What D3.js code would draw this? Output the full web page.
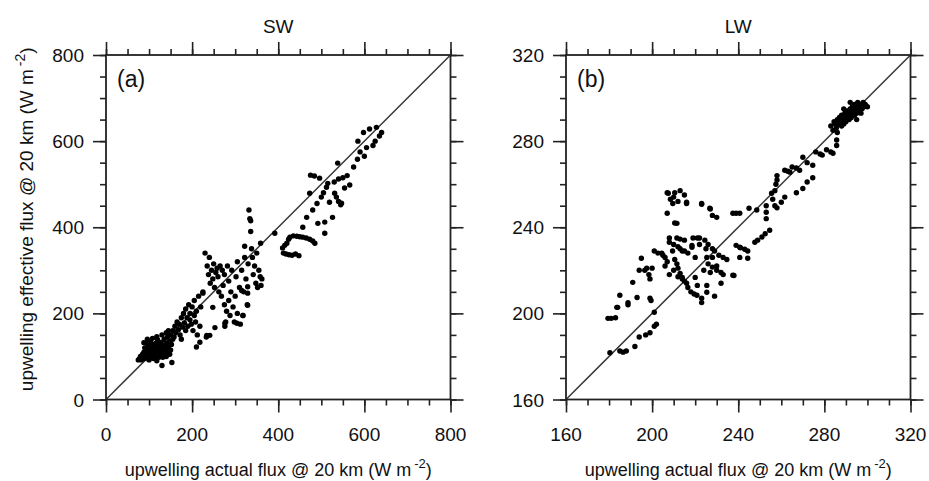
<!DOCTYPE html>
<html>
<head>
<meta charset="utf-8">
<script src="https://cdn.jsdelivr.net/npm/d3@7"></script>
<style>
  body { margin: 0; background: #fff; }
  svg text { font-family: "Liberation Sans", Arial, sans-serif; fill: #111; }
</style>
</head>
<body>
<div id="chart"></div>
<script>
// SW panel: [actual, effective] upwelling flux @ 20 km (W m-2)
const swPoints = [
  [75,92],[78,95],[80,100],[82,92],[85,97],[85,105],[88,110],[88,100],[90,95],[90,120],[92,104],[93,112],[95,98],[95,130],
  [97,108],[98,118],[100,92],[100,125],[100,102],[102,112],[103,135],[105,98],[105,118],[107,108],[108,128],[110,95],[110,115],
  [112,105],[112,122],[115,100],[115,130],[117,112],[118,90],[118,120],[120,104],[120,138],[122,115],[123,98],[125,110],[125,125],
  [127,132],[128,105],[130,118],[130,79],[132,98],[133,112],[135,125],[135,140],[137,108],[138,118],[140,130],[140,100],[142,112],
  [143,145],[145,122],[147,135],[148,105],[150,115],[152,128],[153,86],[155,140],[96,140],[88,132],[108,142],[118,146],[130,150],
  [140,155],[145,160],
  [150,150],[155,160],[158,145],[160,170],[162,155],[165,180],[168,162],[170,175],[172,150],[175,190],[175,140],[178,168],[180,200],
  [182,178],[185,160],[185,210],[188,190],[190,170],[192,220],[195,185],[195,200],[198,175],[200,215],[202,160],[205,195],[205,230],
  [208,180],[210,205],[212,150],[215,240],[218,170],[220,215],[210,122],[218,133],[233,145],[241,149],[234,149],[225,247],[248,214],
  [253,167],[276,177],[276,170],[304,177],[318,195],[329,219],[315,253],
  [225,250],[230,340],[235,310],[238,290],[240,330],[242,270],[245,300],[248,280],[250,315],[252,260],[255,295],[258,305],[260,285],
  [262,250],[265,310],[268,240],[270,300],[272,265],[275,220],[275,290],[278,180],[280,205],[282,310],[285,230],[285,275],[288,195],
  [290,250],[292,300],[295,215],[298,180],[300,240],[302,285],[305,200],[305,320],[310,260],[312,175],[315,300],[318,195],[320,250],
  [322,330],[325,280],[328,220],[330,315],[332,440],[334,420],[336,415],[336,390],[338,350],[340,330],[342,290],[345,310],[348,270],
  [350,340],[352,260],[355,300],[358,285],[360,265],[362,280],[322,356],[329,247],[329,262],[359,363],[392,386],
  [412,340],[418,338],[425,336],[432,335],[440,338],[448,334],[420,363],[424,372],[427,377],[435,380],[443,379],[450,378],[457,377],
  [465,375],[473,372],[480,368],[485,363],[410,352],[415,358],
  [457,400],[466,423],[473,479],[475,521],[484,519],[492,409],[496,514],[508,386],[508,412],[512,493],[515,502],[519,458],[526,423],
  [531,479],[535,470],[540,460],[547,456],[545,452],[554,491],[566,498],[538,549],[575,540],[584,558],[590,575],[600,565],[605,585],
  [598,620],[612,628],[625,600],[628,632],[635,612],[640,620],[620,590],[585,600],[560,520],[480,440],[490,455],[500,470],[505,480],
  [540,512],[550,515],[530,505]
];

// LW panel: [actual, effective] upwelling flux @ 20 km (W m-2)
const lwPoints = [
  [180.4,181.7],[185,182.5],[186.5,182],[188,182.5],[192,184.6],[194,189],[197,190],[199,191],[201,194],[202,195],[201,200.5],
  [179.5,197.7],[181,197.7],[183,198],[183.6,202.8],[184,202.8],[185,208.4],[188.8,205],[188.8,204],[193,207.4],[199,207],
  [199.5,206],[191,214.4],[194,220],[196.6,220],[195,225.6],[197.5,221],[198.5,218],[199,216],[200,221],[201,229],[202.7,228],
  [205,227],[207,224],[206,226],[208,233],[209.5,229],[210.5,225],[211.5,241.8],[207,246.5],[207.5,255.8],[208.5,253],[209.6,251],
  [210.5,256],[213,257],[215,255],[216,251.6],[223,251],[227,248.5],[228,245.5],[230,244.6],[237.5,246.5],[239,246.5],[240.7,246.5],
  [211.5,235],[213,234.5],[215,234],[213,230],[215,229],[216.6,228],[211.5,223],[212,221],[213,218.6],[214,216],[215,215],[216,214],
  [216.6,212],[218,210],[219.5,209],[220.8,208.4],[220,216.7],[221,213],[223,207],[223,205],[225.4,209.8],[225.4,213],[221,235],
  [222,235],[218.5,231.6],[218.5,230.7],[224.5,234],[226,232],[228,230],[225.4,226],[226,223],[228,221.5],[230,220],[229,229],
  [231,227],[233,226],[234.7,225],[232,219],[232,214],[229,208],[238,217.6],[240.7,226],[240.7,230.7],
  [204.5,228],[206,222],[208,218],[210,220],[212,217],[214,216.7],[208,235],[210,232],[212,231],[214,229],[219,235],[222,232],
  [225,230],[228,226],[230,222],[233,218],[220,226],[224,220],[227,219],[237.5,217.7],[239,231.6],[241,230.5],[243,229.8],
  [244.4,229],[244.4,225.6],[247.7,233],[249,234],[251,235.5],[252.5,237],[254.6,238.6],[245,248.8],[248.6,248],[253,250],
  [253,247],[253,244],[223,250.7],[226.8,248.8],[207,256],[210,254],[212,252],[216,251],[210.5,242],
  [255.5,255.8],[256,253],[257,250],[258,249],[257,257],[257.5,260],[258,262],[258,264],[260,251.6],[261.6,254],[261.6,266.5],
  [263,266],[264,265.6],[265,268],[267,267.5],[268.5,266.5],[267,256],[270,258],[272,261],[274.6,263],[270,272.5],[272,270],
  [274.6,268.8],[276,275],[278,274],[279,273.5],[281,276],[283,275],[284,274.4],[285.7,278],[285.7,280.5],
  [283,287],[284,285],[284.5,289],[285,288],[285.5,286],[286,290],[286.5,288],[287,291],[287.5,289],[288,287],[288,292],
  [288.5,290],[289,288],[289.5,293],[290,291],[290,289],[290.5,294],[291,292],[291.5,290],[292,295],[292,293],[292.5,291],
  [293,296],[293.5,294],[294,292],[294,297],[294.5,295],[295,293],[295.5,298],[296,296],[296.5,294],[297,297],[297.5,295],
  [298,298],[298.5,296],[299,297],[300,296],[292,298],[289,295],[286,284],[295,290],[297,293]
];

const swMajor = [0, 200, 400, 600, 800];
const swMinor = d3.range(0, 801, 50);
const lwMajor = [160, 200, 240, 280, 320];
const lwMinor = d3.range(160, 321, 10);

const panels = [
  { title: "SW", tag: "(a)", points: swPoints, domain: [0, 800], major: swMajor, minor: swMinor, left: 106, ylabel: true },
  { title: "LW", tag: "(b)", points: lwPoints, domain: [160, 320], major: lwMajor, minor: lwMinor, left: 566, ylabel: false }
];

const W = 929, H = 481;
const plotTop = 55, size = 344.5;

const svg = d3.select("#chart").append("svg")
  .attr("width", W)
  .attr("height", H);

function addTitle(g, x, y, base, rotate, fs) {
  const t = g.append("text")
    .attr("text-anchor", "middle")
    .attr("font-size", fs)
    .attr("transform", rotate ? `translate(${x},${y}) rotate(-90)` : `translate(${x},${y})`);
  t.append("tspan").text(base + " (W m");
  t.append("tspan").attr("dx", 3).attr("dy", -8).attr("font-size", fs - 5).text("-2");
  t.append("tspan").attr("dy", 8).text(")");
}

panels.forEach((p) => {
  const x = d3.scaleLinear().domain(p.domain).range([p.left, p.left + size]);
  const y = d3.scaleLinear().domain(p.domain).range([plotTop + size, plotTop]);
  const g = svg.append("g");

  // minor + major ticks, outward on all four sides
  const sides = [
    [d3.axisBottom, x, `translate(0,${plotTop + size})`],
    [d3.axisTop, x, `translate(0,${plotTop})`],
    [d3.axisLeft, y, `translate(${p.left},0)`],
    [d3.axisRight, y, `translate(${p.left + size},0)`]
  ];
  sides.forEach(([axisFn, sc, tr]) => {
    g.append("g").attr("transform", tr)
      .call(axisFn(sc).tickValues(p.minor).tickSize(6).tickFormat(""))
      .call((a) => a.select(".domain").remove())
      .call((a) => a.selectAll("line").attr("stroke", "#222").attr("stroke-width", 1.6));
    g.append("g").attr("transform", tr)
      .call(axisFn(sc).tickValues(p.major).tickSize(13).tickFormat(""))
      .call((a) => a.select(".domain").remove())
      .call((a) => a.selectAll("line").attr("stroke", "#222").attr("stroke-width", 1.6));
  });

  // tick labels
  g.selectAll(".xl").data(p.major).enter().append("text")
    .attr("x", (d) => x(d))
    .attr("y", plotTop + size + 41)
    .attr("text-anchor", "middle")
    .attr("font-size", 19)
    .text((d) => d);
  g.selectAll(".yl").data(p.major).enter().append("text")
    .attr("x", p.left - 22)
    .attr("y", (d) => y(d) + 7)
    .attr("text-anchor", "end")
    .attr("font-size", 19)
    .text((d) => d);

  // 1:1 line
  g.append("line")
    .attr("x1", x(p.domain[0])).attr("y1", y(p.domain[0]))
    .attr("x2", x(p.domain[1])).attr("y2", y(p.domain[1]))
    .attr("stroke", "#333").attr("stroke-width", 1.5);

  g.selectAll(".pt").data(p.points).enter().append("circle")
    .attr("cx", (d) => x(d[0]))
    .attr("cy", (d) => y(d[1]))
    .attr("r", 2.7)
    .attr("fill", "#000");

  // frame
  g.append("rect")
    .attr("x", p.left).attr("y", plotTop)
    .attr("width", size).attr("height", size)
    .attr("fill", "none").attr("stroke", "#222").attr("stroke-width", 1.8);

  g.append("text")
    .attr("x", p.left + size / 2).attr("y", 33)
    .attr("text-anchor", "middle").attr("font-size", 19)
    .text(p.title);

  g.append("text")
    .attr("x", p.left + 11).attr("y", 87)
    .attr("font-size", 23)
    .text(p.tag);

  addTitle(g, p.left + size / 2, 476, "upwelling actual flux @ 20 km", false, 18);
  if (p.ylabel) addTitle(g, 33, plotTop + size / 2 - 8, "upwelling effective flux @ 20 km", true, 19);
});
</script>
</body>
</html>
